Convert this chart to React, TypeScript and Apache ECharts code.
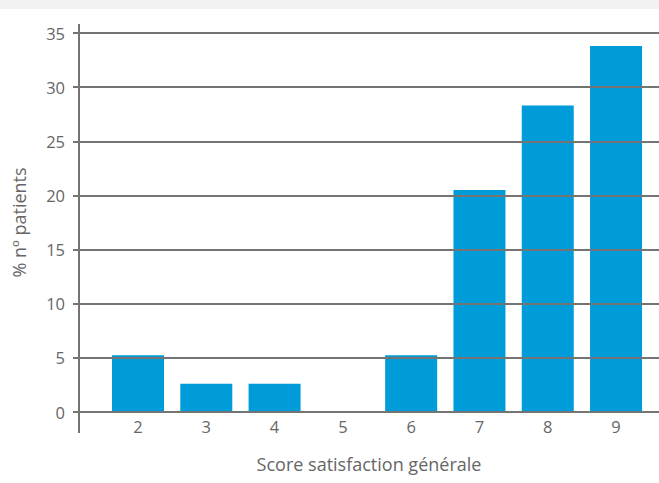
import React, { useEffect, useRef } from "react";
import * as echarts from "echarts";

const categories: number[] = [2, 3, 4, 5, 6, 7, 8, 9];
const percentPatients: number[] = [5.25, 2.6, 2.6, 0, 5.25, 20.5, 28.3, 33.8];
const yTicks: number[] = [0, 5, 10, 15, 20, 25, 30, 35];

const xAxisName = "Score satisfaction générale";
const yAxisName = "% nº patients";

const FONT = "'Open Sans', 'Noto Sans', sans-serif";
const GRAY = "#747474";
const TEXT = "#666666";
const BLUE = "#009cd9";

export default function App() {
  const ref = useRef<HTMLDivElement>(null);
  useEffect(() => {
    if (!ref.current) return;
    const chart = echarts.init(ref.current, undefined, { renderer: "svg" });
    const data = categories.map((c, i) => [c, percentPatients[i]]);
    chart.setOption({
      animation: false,
      backgroundColor: "#ffffff",
      textStyle: { fontFamily: FONT },
      grid: { left: 79, right: 0, top: 33, bottom: 71, containLabel: false },
      graphic: [
        { type: "rect", left: 0, top: 0, shape: { width: 659, height: 9 }, style: { fill: "#f2f2f2" }, z: 0 },
        { type: "line", shape: { x1: 79, y1: 24, x2: 79, y2: 433 }, style: { stroke: GRAY, lineWidth: 2 }, z: 20 },
      ],
      xAxis: {
        type: "value",
        min: 1.136,
        max: 9.629,
        splitNumber: 8,
        axisLine: { show: false },
        axisTick: { show: false },
        splitLine: { show: false },
        axisLabel: {
          color: TEXT,
          fontSize: 16.5,
          fontFamily: FONT,
          margin: 6,
          showMinLabel: false,
          showMaxLabel: false,
          formatter: (v: number) => (Math.abs(v - Math.round(v)) < 1e-6 && categories.includes(Math.round(v)) ? String(Math.round(v)) : ""),
        },
        name: xAxisName,
        nameLocation: "middle",
        nameGap: 43,
        nameTextStyle: { color: TEXT, fontSize: 18, fontFamily: FONT },
      },
      yAxis: {
        type: "value",
        min: yTicks[0],
        max: yTicks[yTicks.length - 1],
        interval: 5,
        z: 10,
        axisLine: { show: false },
        axisTick: { show: true, length: 6, lineStyle: { color: GRAY, width: 2 } },
        splitLine: { show: true, lineStyle: { color: GRAY, width: 2 } },
        axisLabel: { color: TEXT, fontSize: 16.5, fontFamily: FONT, margin: 14 },
        name: yAxisName,
        nameLocation: "middle",
        nameRotate: 90,
        nameGap: 51,
        nameTextStyle: { color: TEXT, fontSize: 18, fontFamily: FONT },
      },
      series: [
        {
          type: "bar",
          data,
          barWidth: 52,
          itemStyle: { color: BLUE },
          z: 2,
        },
      ],
    });
    return () => chart.dispose();
  }, []);
  return (
    <div
      ref={ref}
      style={{ position: "fixed", left: 0, top: 0, width: 659, height: 483 }}
    />
  );
}
